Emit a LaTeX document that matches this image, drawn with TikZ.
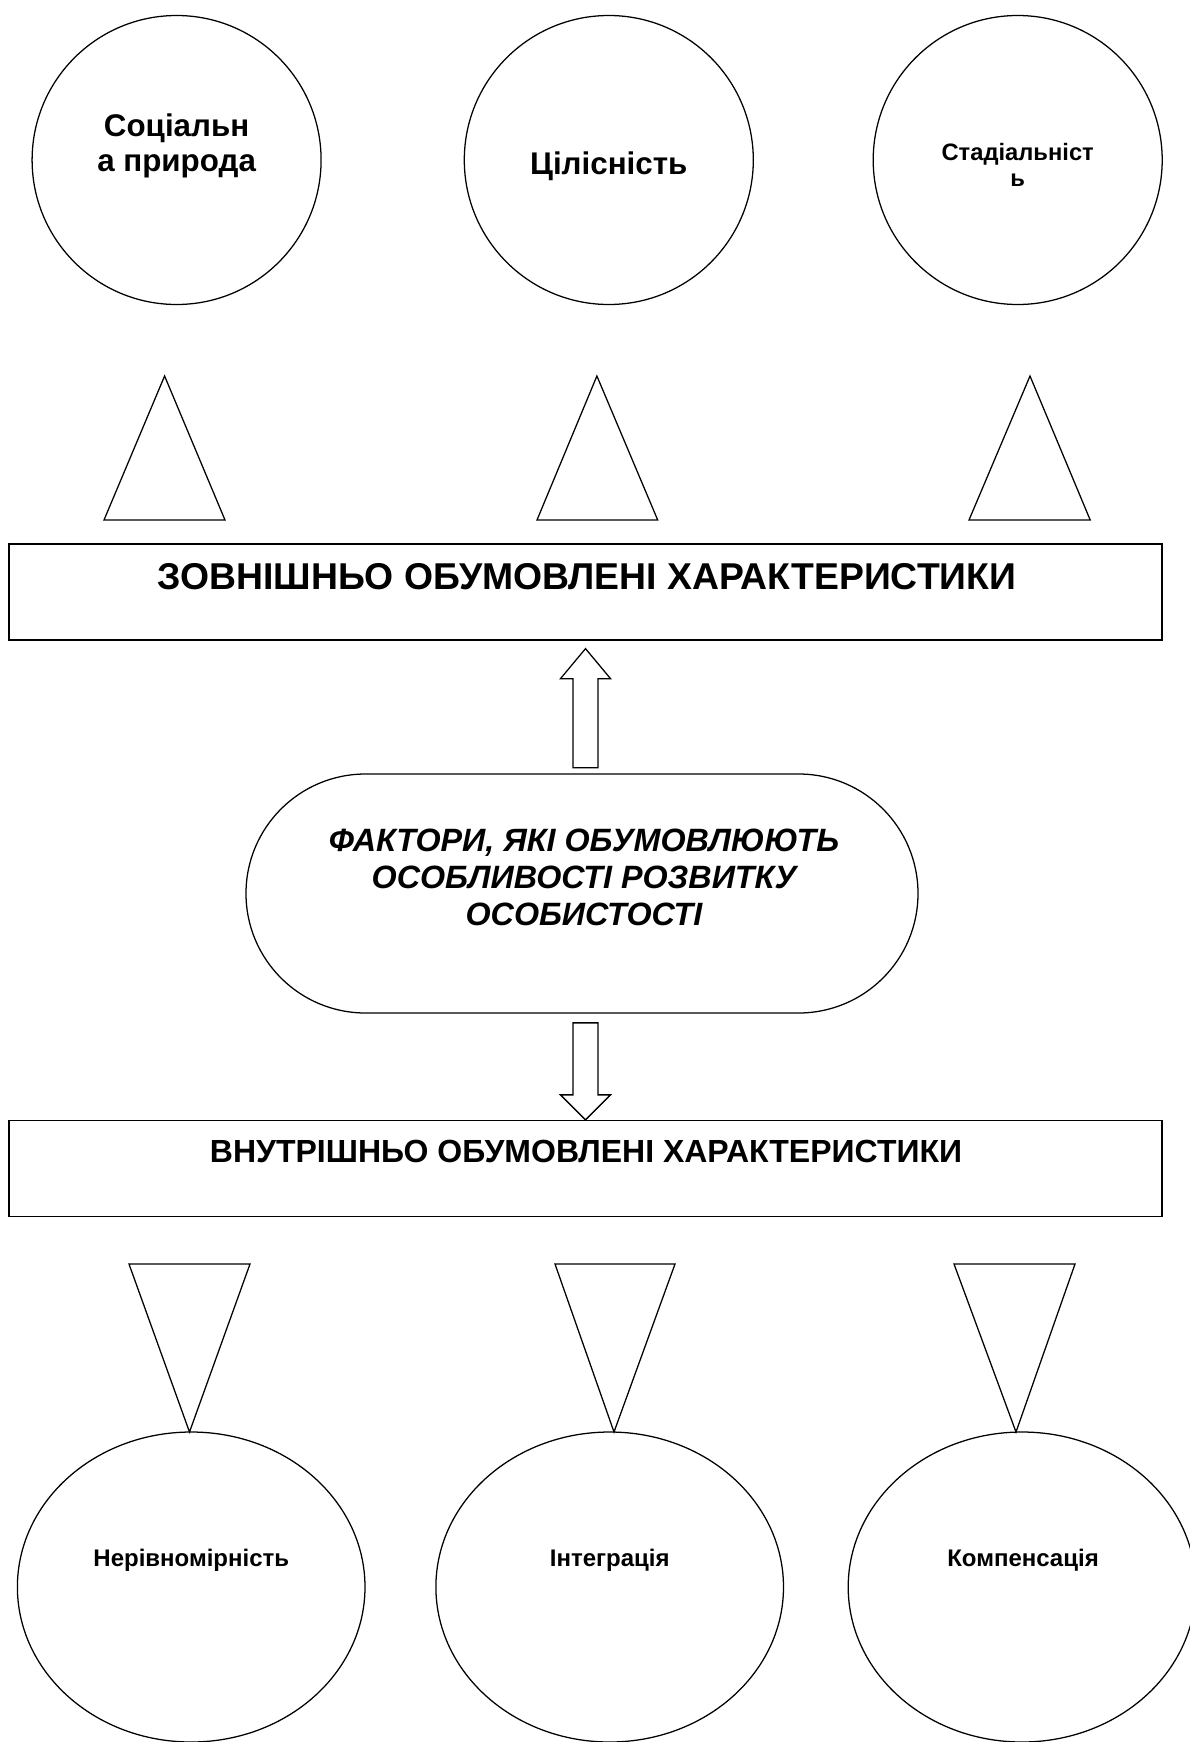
\documentclass[tikz,border=0pt]{standalone}
\usepackage{fontspec}
\setmainfont{Liberation Sans}
\usetikzlibrary{shapes.geometric,shapes.misc}
\begin{document}
\begin{tikzpicture}[x=0.75pt,y=-0.75pt,line width=0.95pt,
  circ/.style={draw,ellipse,inner sep=0pt,minimum width=216.75pt,minimum height=216.75pt},
  oval/.style={draw,ellipse,inner sep=0pt,minimum width=260.7pt,minimum height=232.5pt},
  band/.style={draw,rectangle,inner sep=0pt,minimum width=864.75pt,minimum height=72pt},
  stadium/.style={draw,rounded rectangle,inner sep=0pt,minimum width=504pt,minimum height=179.25pt},
  bigtxt/.style={font=\bfseries\fontsize{23.5}{26.5}\selectfont,align=center,inner sep=0pt},
  midtxt/.style={font=\bfseries\fontsize{17.8}{20}\selectfont,align=center,inner sep=0pt},
  smalltxt/.style={font=\bfseries\fontsize{18}{21}\selectfont,align=center,inner sep=0pt},
  tri/.style={draw,line join=miter}]
\useasboundingbox (0,0) rectangle (1189,1742);
% top circles
\node[circ] (c1) at (176.6,160) {};
\node[circ] (c2) at (608.8,160) {};
\node[circ] (c3) at (1017.7,160) {};
\node[bigtxt] (c1t) at (176.6,146) {Соціальн\\а природа};
\node[bigtxt] (c2t) at (608.8,166) {Цілісність};
\node[midtxt] (c3t) at (1017.7,165) {Стадіальніст\\ь};
% top triangles
\draw[tri] (164.6,376) -- (225,520) -- (104,520) -- cycle;
\draw[tri] (596.9,376) -- (657.7,520) -- (537,520) -- cycle;
\draw[tri] (1030,376) -- (1090.2,520) -- (969,520) -- cycle;
% band 1
\node[band] (r1) at (585.5,592) {};
\node[font=\bfseries\fontsize{28}{31}\selectfont,inner sep=0pt] (r1t) at (587,577) {ЗОВНІШНЬО ОБУМОВЛЕНІ ХАРАКТЕРИСТИКИ};
% stadium
\node[stadium] (st) at (582,893.5) {};
\node[font=\bfseries\itshape\fontsize{24.2}{27.75}\selectfont,align=center,inner sep=0pt] (stt) at (584,877) {ФАКТОРИ, ЯКІ ОБУМОВЛЮЮТЬ\\ОСОБЛИВОСТІ РОЗВИТКУ\\ОСОБИСТОСТІ};
% band 2
\node[band] (r2) at (585.5,1168.5) {};
\node[font=\bfseries\fontsize{24}{28}\selectfont,inner sep=0pt] (r2t) at (586,1151) {ВНУТРІШНЬО ОБУМОВЛЕНІ ХАРАКТЕРИСТИКИ};
% block arrows
\coordinate (uatip) at ([yshift=-6pt]r1.south);
\draw[line join=miter] (uatip) -- ++(25,30) -- ++(-12.5,0) -- ++(0,89) -- ++(-25,0) -- ++(0,-89) -- ++(-12.5,0) -- cycle;
\draw[line join=miter] (r2.north) -- ++(25,-25) -- ++(-12.5,0) -- ++(0,-72) -- ++(-25,0) -- ++(0,72) -- ++(-12.5,0) -- cycle;
% bottom triangles
\draw[tri] (129,1264) -- (250,1264) -- (189.5,1432) -- cycle;
\draw[tri] (555,1264) -- (675,1264) -- (614,1432) -- cycle;
\draw[tri] (954,1264) -- (1075,1264) -- (1016,1432) -- cycle;
% bottom ellipses
\node[oval] (e1) at (191.2,1587) {};
\node[oval] (e2) at (609.7,1587) {};
\node[oval] (e3) at (1022,1587) {};
\node[smalltxt] (e1t) at (191.3,1560) {Нерівномірність};
\node[smalltxt] (e2t) at (609.7,1560) {Інтеграція};
\node[smalltxt] (e3t) at (1023,1560) {Компенсація};
\end{tikzpicture}
\end{document}
